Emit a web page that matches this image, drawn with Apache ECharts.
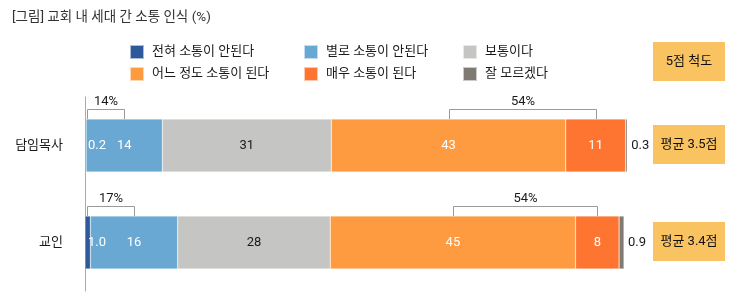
<!DOCTYPE html>
<html>
<head>
<meta charset="utf-8">
<script src="https://cdn.jsdelivr.net/npm/echarts@6/dist/echarts.min.js"></script>
<style>
  html, body { margin: 0; padding: 0; background: #fff; }
  #chart { width: 739px; height: 302px; }
</style>
</head>
<body>
<div id="chart"></div>
<script>
// Respondent groups (rows, top to bottom)
const groups = ['담임목사', '교인'];

// Response categories in stacking order
const responseNames = ['전혀 소통이 안된다', '별로 소통이 안된다', '보통이다', '어느 정도 소통이 된다', '매우 소통이 된다', '잘 모르겠다'];

// Share of each response per group (%)
const notAtAll = [0.2, 1.0];
const notMuch = [14, 16];
const neutral = [31, 28];
const somewhat = [43, 45];
const very = [11, 8];
const unsure = [0.3, 0.9];

// Combined shares printed over the brackets (%)
const negativeShare = [14, 17];
const positiveShare = [54, 54];

// Mean score on the 5-point scale
const averageScore = [3.5, 3.4];

const FONT = 'Roboto, "Noto Sans CJK KR", sans-serif';
const BAR_W = 53;
const colors = ['#2E5A9C', '#68A8D3', '#C5C5C3', '#FE9A3F', '#FE7431', '#807B72'];
const values = [notAtAll, notMuch, neutral, somewhat, very, unsure];

function barSeries(idx) {
  const decimal = idx === 0 || idx === 5;
  const label = {
    show: true,
    fontSize: 13,
    fontFamily: FONT,
    color: (idx === 2 || idx === 5) ? '#1a1a1a' : '#fff',
    formatter: p => decimal ? Number(p.value).toFixed(1) : String(p.value)
  };
  if (idx === 0) { label.position = 'insideLeft'; label.distance = 3; }
  else if (idx === 5) { label.position = 'right'; label.distance = 4; }
  else { label.position = 'inside'; }
  return {
    name: responseNames[idx],
    type: 'bar',
    stack: 'total',
    barWidth: BAR_W,
    itemStyle: { color: colors[idx], borderColor: 'rgba(255,255,255,0.6)', borderWidth: 0.5 },
    label: label,
    emphasis: { disabled: true },
    data: values[idx]
  };
}

// Bracket spans in value units, derived from the stacked shares
const bracketData = [];
const bracketText = [];
groups.forEach((g, i) => {
  bracketData.push([i, 0, notAtAll[i] + notMuch[i] / 2, 1]);
  bracketText.push(negativeShare[i] + '%');
  const base = notAtAll[i] + notMuch[i] + neutral[i];
  bracketData.push([i, base + somewhat[i] / 2, base + somewhat[i] + very[i] / 2, 0]);
  bracketText.push(positiveShare[i] + '%');
});

function renderBracket(params, api) {
  const row = api.value(0);
  const a = api.coord([api.value(1), row]);
  const b = api.coord([api.value(2), row]);
  const inset = api.value(3) ? 2 : 0;
  const x1 = Math.round(a[0] + inset) + 0.5;
  const x2 = Math.round(b[0]) + 0.5;
  const barTop = Math.round(a[1] - BAR_W / 2);
  const top = barTop - 10 + 0.5;
  return {
    type: 'group',
    children: [
      {
        type: 'polyline',
        shape: { points: [[x1, barTop], [x1, top], [x2, top], [x2, barTop]] },
        style: { stroke: '#9a9a9a', lineWidth: 1, fill: null }
      },
      {
        type: 'text',
        style: {
          x: (x1 + x2) / 2, y: top - 8,
          text: bracketText[params.dataIndex],
          align: 'center', verticalAlign: 'middle',
          fontSize: 13, fontFamily: FONT, fill: '#1a1a1a'
        }
      }
    ]
  };
}

function renderAverage(params, api) {
  const row = api.value(0);
  const c = api.coord([0, row]);
  const h = 39, w = 72, x = 653;
  return {
    type: 'rect',
    shape: { x: x, y: Math.round(c[1] - h / 2 - 1), width: w, height: h },
    style: { fill: '#F9C362' },
    textContent: {
      style: {
        text: '평균 ' + averageScore[params.dataIndex].toFixed(1) + '점',
        fontSize: 13, fontFamily: FONT, fill: '#111'
      }
    },
    textConfig: { position: 'inside' }
  };
}

function legendColumn(left, names) {
  return {
    orient: 'vertical',
    left: left,
    top: 44,
    padding: 0,
    itemWidth: 14,
    itemHeight: 14,
    itemGap: 6,
    icon: 'rect',
    selectedMode: false,
    data: names,
    textStyle: { fontSize: 13, fontFamily: FONT, color: '#1a1a1a', padding: [0, 0, 0, 3] }
  };
}

const chart = echarts.init(document.getElementById('chart'), null, { renderer: 'canvas' });
chart.setOption({
  animation: false,
  backgroundColor: '#fff',
  textStyle: { fontFamily: FONT },
  title: {
    text: '[그림] 교회 내 세대 간 소통 인식 (%)',
    left: 12,
    top: 11,
    padding: 0,
    textStyle: { fontSize: 13.5, fontWeight: 'normal', color: '#333', fontFamily: FONT }
  },
  legend: [
    legendColumn(129, [responseNames[0], responseNames[3]]),
    legendColumn(303, [responseNames[1], responseNames[4]]),
    legendColumn(462, [responseNames[2], responseNames[5]])
  ],
  graphic: [{
    type: 'rect',
    shape: { x: 653, y: 42, width: 72, height: 39 },
    style: { fill: '#F9C362' },
    textContent: { style: { text: '5점 척도', fontSize: 13, fontFamily: FONT, fill: '#111' } },
    textConfig: { position: 'inside' }
  }],
  grid: { left: 85, top: 97, width: 545, height: 194 },
  xAxis: { type: 'value', min: 0, max: 100, show: false },
  yAxis: {
    type: 'category',
    inverse: true,
    data: groups,
    axisLine: { lineStyle: { color: '#aaa', width: 1 } },
    axisTick: { show: false },
    axisLabel: { margin: 22, fontSize: 13, color: '#1a1a1a', fontFamily: FONT }
  },
  series: [
    ...responseNames.map((n, i) => barSeries(i)),
    {
      type: 'custom',
      silent: true,
      clip: false,
      renderItem: renderBracket,
      encode: { y: 0, x: [1, 2] },
      data: bracketData,
      z: 5
    },
    {
      type: 'custom',
      silent: true,
      clip: false,
      renderItem: renderAverage,
      encode: { y: 0 },
      data: groups.map((g, i) => [i]),
      z: 5
    }
  ]
});
</script>
</body>
</html>
